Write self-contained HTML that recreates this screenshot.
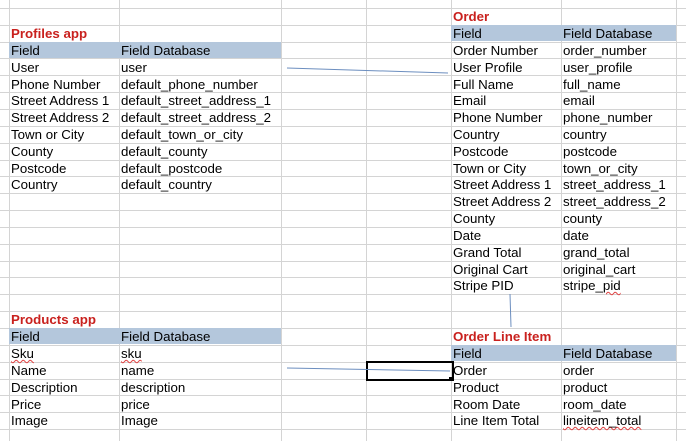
<!DOCTYPE html>
<html><head><meta charset="utf-8"><style>
html,body{margin:0;padding:0}
body{width:686px;height:441px;overflow:hidden;background:#fff;position:relative;font-family:"Liberation Sans",sans-serif;font-size:13.3px;color:#000}
.h{position:absolute;left:0;width:686px;height:1px;background:#d4d4d4}
.v{position:absolute;top:0;height:441px;width:1px;background:#d4d4d4}
.band{position:absolute;height:16px;background:#b4c7dc}
.r{position:absolute;height:17px;line-height:18px;white-space:nowrap}
.r span{position:absolute;top:0}
.t{color:#c9211e;font-weight:bold}
.sq{text-decoration:underline wavy #e04040;text-decoration-thickness:1px}
</style></head><body>
<div class="h" style="top:8px"></div><div class="h" style="top:25px"></div><div class="h" style="top:42px"></div><div class="h" style="top:58px"></div><div class="h" style="top:75px"></div><div class="h" style="top:92px"></div><div class="h" style="top:109px"></div><div class="h" style="top:126px"></div><div class="h" style="top:143px"></div><div class="h" style="top:160px"></div><div class="h" style="top:176px"></div><div class="h" style="top:193px"></div><div class="h" style="top:210px"></div><div class="h" style="top:227px"></div><div class="h" style="top:244px"></div><div class="h" style="top:261px"></div><div class="h" style="top:277px"></div><div class="h" style="top:294px"></div><div class="h" style="top:311px"></div><div class="h" style="top:328px"></div><div class="h" style="top:345px"></div><div class="h" style="top:362px"></div><div class="h" style="top:379px"></div><div class="h" style="top:395px"></div><div class="h" style="top:412px"></div><div class="h" style="top:429px"></div>
<div class="v" style="left:9px"></div><div class="v" style="left:119px"></div><div class="v" style="left:281px"></div><div class="v" style="left:366px"></div><div class="v" style="left:451px"></div><div class="v" style="left:561px"></div><div class="v" style="left:676px"></div>

<div class="band" style="left:9px;width:272px;top:42px"></div>
<div class="band" style="left:9px;width:272px;top:328px"></div>
<div class="band" style="left:451px;width:225px;top:25px"></div>
<div class="band" style="left:451px;width:225px;top:345px"></div>

<div style="position:absolute;left:366px;top:361px;width:84px;height:16px;border:2px solid #000"></div>
<div style="position:absolute;left:449px;top:377px;width:4px;height:4px;background:#000"></div>

<svg style="position:absolute;left:0;top:0" width="686" height="441">
<line x1="287" y1="68" x2="448" y2="73" stroke="#6c8ebf" stroke-width="1"/>
<line x1="510" y1="294" x2="511" y2="327" stroke="#6c8ebf" stroke-width="1"/>
<line x1="287" y1="368" x2="450" y2="371" stroke="#6c8ebf" stroke-width="1"/>
</svg>

<!-- left -->
<div class="r" style="top:25px;left:11px"><span class="t">Profiles app</span></div>
<div class="r" style="top:42px;left:11px"><span>Field</span><span style="left:110px">Field Database</span></div>
<div class="r" style="top:59px;left:11px"><span>User</span><span style="left:110px">user</span></div>
<div class="r" style="top:76px;left:11px"><span>Phone Number</span><span style="left:110px">default_phone_number</span></div>
<div class="r" style="top:92px;left:11px"><span>Street Address 1</span><span style="left:110px">default_street_address_1</span></div>
<div class="r" style="top:109px;left:11px"><span>Street Address 2</span><span style="left:110px">default_street_address_2</span></div>
<div class="r" style="top:126px;left:11px"><span>Town or City</span><span style="left:110px">default_town_or_city</span></div>
<div class="r" style="top:143px;left:11px"><span>County</span><span style="left:110px">default_county</span></div>
<div class="r" style="top:160px;left:11px"><span>Postcode</span><span style="left:110px">default_postcode</span></div>
<div class="r" style="top:176px;left:11px"><span>Country</span><span style="left:110px">default_country</span></div>

<div class="r" style="top:311px;left:11px"><span class="t">Products app</span></div>
<div class="r" style="top:328px;left:11px"><span>Field</span><span style="left:110px">Field Database</span></div>
<div class="r" style="top:345px;left:11px"><span class="sq">Sku</span><span style="left:110px" class="sq">sku</span></div>
<div class="r" style="top:362px;left:11px"><span>Name</span><span style="left:110px">name</span></div>
<div class="r" style="top:379px;left:11px"><span>Description</span><span style="left:110px">description</span></div>
<div class="r" style="top:396px;left:11px"><span>Price</span><span style="left:110px">price</span></div>
<div class="r" style="top:412px;left:11px"><span>Image</span><span style="left:110px">Image</span></div>

<!-- right -->
<div class="r" style="top:8px;left:453px"><span class="t">Order</span></div>
<div class="r" style="top:25px;left:453px"><span>Field</span><span style="left:110px">Field Database</span></div>
<div class="r" style="top:42px;left:453px"><span>Order Number</span><span style="left:110px">order_number</span></div>
<div class="r" style="top:59px;left:453px"><span>User Profile</span><span style="left:110px">user_profile</span></div>
<div class="r" style="top:76px;left:453px"><span>Full Name</span><span style="left:110px">full_name</span></div>
<div class="r" style="top:92px;left:453px"><span>Email</span><span style="left:110px">email</span></div>
<div class="r" style="top:109px;left:453px"><span>Phone Number</span><span style="left:110px">phone_number</span></div>
<div class="r" style="top:126px;left:453px"><span>Country</span><span style="left:110px">country</span></div>
<div class="r" style="top:143px;left:453px"><span>Postcode</span><span style="left:110px">postcode</span></div>
<div class="r" style="top:160px;left:453px"><span>Town or City</span><span style="left:110px">town_or_city</span></div>
<div class="r" style="top:176px;left:453px"><span>Street Address 1</span><span style="left:110px">street_address_1</span></div>
<div class="r" style="top:193px;left:453px"><span>Street Address 2</span><span style="left:110px">street_address_2</span></div>
<div class="r" style="top:210px;left:453px"><span>County</span><span style="left:110px">county</span></div>
<div class="r" style="top:227px;left:453px"><span>Date</span><span style="left:110px">date</span></div>
<div class="r" style="top:244px;left:453px"><span>Grand Total</span><span style="left:110px">grand_total</span></div>
<div class="r" style="top:261px;left:453px"><span>Original Cart</span><span style="left:110px">original_cart</span></div>
<div class="r" style="top:277px;left:453px"><span>Stripe PID</span><span style="left:110px">stripe_<span class="sq" style="position:static">pid</span></span></div>

<div class="r" style="top:328px;left:453px"><span class="t">Order Line Item</span></div>
<div class="r" style="top:345px;left:453px"><span>Field</span><span style="left:110px">Field Database</span></div>
<div class="r" style="top:362px;left:453px"><span>Order</span><span style="left:110px">order</span></div>
<div class="r" style="top:379px;left:453px"><span>Product</span><span style="left:110px">product</span></div>
<div class="r" style="top:396px;left:453px"><span>Room Date</span><span style="left:110px">room_date</span></div>
<div class="r" style="top:412px;left:453px"><span>Line Item Total</span><span style="left:110px" class="sq">lineitem_total</span></div>
</body></html>
